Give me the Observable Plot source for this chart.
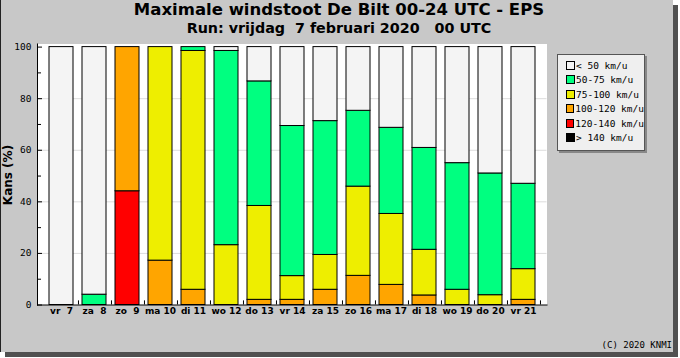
<!DOCTYPE html>
<html><head><meta charset="utf-8">
<script src="https://cdn.jsdelivr.net/npm/d3@7"></script>
<script src="https://cdn.jsdelivr.net/npm/@observablehq/plot@0.6"></script>
<style>
html,body{margin:0;padding:0;background:#fff;width:680px;height:358px;overflow:hidden}
#panel{position:absolute;left:0;top:0;width:672px;height:352px;background:#c8c8c8;border-left:1px solid #222;box-shadow:5px 5px 0 #505050}
#chart{position:absolute;left:0;top:0}
#chart svg text{white-space:pre}
.ttl{position:absolute;left:0;width:678px;text-align:center;font-family:"DejaVu Sans";font-weight:bold;color:#000;white-space:pre;line-height:1}
#legend{position:absolute;left:557px;top:54px;width:86px;height:92px;background:#efefef;border:1px solid #555;box-shadow:2px 2px 0 #888;padding-top:3px;box-sizing:content-box}
.row{height:14.5px;display:flex;align-items:center;font-family:"DejaVu Sans Mono";font-size:9.5px;white-space:pre;color:#000}
.sw{width:7px;height:7px;border:1px solid #000;margin-left:8px;margin-right:1px}
#copy{position:absolute;right:8px;top:341px;font-family:"DejaVu Sans Mono";font-size:9px;line-height:1;color:#000}
#ylab{position:absolute;left:-32px;top:168px;width:80px;text-align:center;transform:rotate(-90deg);font-family:"DejaVu Sans";font-weight:bold;font-size:12px;line-height:14px}
</style></head>
<body>
<div id="panel"></div>
<div id="chart"></div>
<div class="ttl" id="t1" style="top:2px;font-size:16.5px"></div>
<div class="ttl" id="t2" style="top:21.2px;font-size:14.3px"></div>
<div id="ylab"></div>
<div id="legend"></div>
<div id="copy"></div>
<script>
const title = "Maximale windstoot De Bilt 00-24 UTC - EPS";
const subtitle = "Run: vrijdag  7 februari 2020   00 UTC";
const yTitle = "Kans (%)";
const copyright = "(C) 2020 KNMI";

const days = ["vr  7","za  8","zo  9","ma 10","di 11","wo 12","do 13","vr 14","za 15","zo 16","ma 17","di 18","wo 19","do 20","vr 21"];

// series, bottom of stack first
const seriesNames = ["> 140 km/u","120-140 km/u","100-120 km/u","75-100 km/u","50-75 km/u","< 50 km/u"];
const legendOrder = ["< 50 km/u","50-75 km/u","75-100 km/u","100-120 km/u","120-140 km/u","> 140 km/u"];
const seriesColors = ["#000000","#ff0000","#ffa500","#eeee00","#00ff80","#f4f4f4"];

const above140 = [0,0,0,0,0,0,0,0,0,0,0,0,0,0,0];
const kmh120_140 = [0,0,44.1,0,0,0,0,0,0,0,0,0,0,0,0];
const kmh100_120 = [0,0,55.9,17.2,5.9,0,2,2,5.9,11.3,7.8,3.7,0,0,2];
const kmh75_100 = [0,0,0,82.8,92.6,23.2,36.4,9.2,13.5,34.6,27.5,17.7,5.9,3.8,11.9];
const kmh50_75 = [0,4,0,0,1.5,75.3,48.3,58.2,51.9,29.4,33.4,39.5,49.1,47.2,33.1];
const below50 = [100,96,0,0,0,1.5,13.3,30.6,28.7,24.7,31.3,39.1,45,49,53];

const yMajor = [0,20,40,60,80,100];
const yMinor = [10,30,50,70,90];
const yGrid = [20,40,60,80];

const seriesValues = [above140,kmh120_140,kmh100_120,kmh75_100,kmh50_75,below50];
const data = [];
seriesNames.forEach((name,i)=>{
  days.forEach((day,j)=>{
    const v = seriesValues[i][j];
    if (v > 0) data.push({day, band: name, value: v});
  });
});

const W = 680, H = 358, mL = 37, mR = 133.5;
const step = (W - mL - mR) / days.length;

const chart = Plot.plot({
  width: W, height: H,
  marginLeft: mL, marginRight: mR, marginTop: 43.5, marginBottom: 53.5,
  style: {background: "transparent", overflow: "visible"},
  x: {type: "band", domain: days, paddingInner: 0.28, paddingOuter: 0.14, align: 0.5, label: null},
  y: {domain: [0, 101.2], label: null},
  color: {domain: seriesNames, range: seriesColors},
  marks: [
    Plot.frame({fill: "white", stroke: null}),
    Plot.ruleY(yGrid, {stroke: "#dcdcdc"}),
    Plot.barY(data, {x: "day", y: "value", fill: "band", stroke: "black", strokeWidth: 1, order: null}),
    Plot.ruleX(days, {x: d => d, y1: 0, y2: 1.6, dx: step/2, stroke: "black"}),
    Plot.frame({anchor: "left", stroke: "black"}),
    Plot.frame({anchor: "bottom", stroke: "black"}),
    Plot.axisY(yMajor, {tickSize: -5, tickPadding: 11, fontFamily: "DejaVu Sans Mono", fontSize: 9.5, label: null}),
    Plot.axisY(yMinor, {tickSize: -4, text: null, label: null}),
    Plot.axisX({tickSize: 0, tickPadding: 3, fontWeight: "bold", fontSize: 9, fontFamily: "DejaVu Sans", label: null})
  ]
});
document.getElementById("chart").appendChild(chart);
document.getElementById("t1").textContent = title;
document.getElementById("t2").textContent = subtitle;
document.getElementById("ylab").textContent = yTitle;
document.getElementById("copy").textContent = copyright;
const leg = document.getElementById("legend");
legendOrder.forEach(name => {
  const row = document.createElement("div");
  row.className = "row";
  const sw = document.createElement("div");
  sw.className = "sw";
  sw.style.background = seriesColors[seriesNames.indexOf(name)];
  const tx = document.createElement("span");
  tx.textContent = name;
  row.appendChild(sw); row.appendChild(tx);
  leg.appendChild(row);
});
</script>
</body></html>
